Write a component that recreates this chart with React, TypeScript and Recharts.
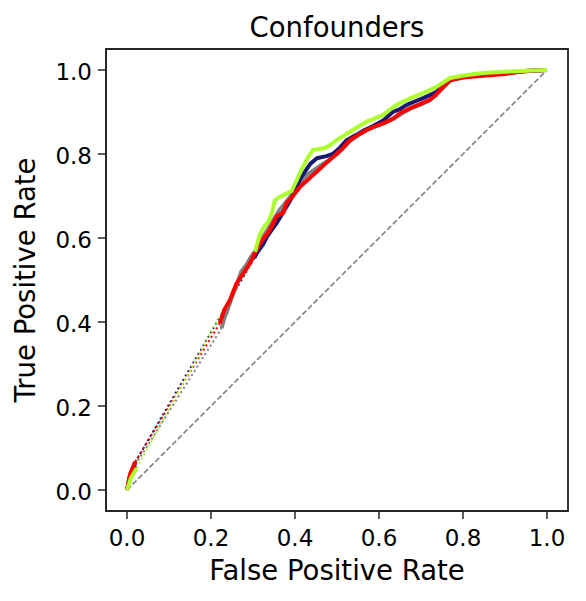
import { Line, LineChart, ReferenceArea, XAxis, YAxis } from 'recharts'

const FONT = '"DejaVu Sans", sans-serif'
const SPINE = '#262626'

const TICKS = [0, 0.2, 0.4, 0.6, 0.8, 1.0]

// each curve: short solid start, a dotted jump, then the dense solid part
const GRAY_START_FPR = [0, 0.006, 0.02]
const GRAY_START_TPR = [0, 0.032, 0.06]
const GRAY_GAP_FPR = [0.02, 0.225]
const GRAY_GAP_TPR = [0.06, 0.385]
const GRAY_FPR = [0.225, 0.232, 0.24, 0.25, 0.262, 0.272, 0.285, 0.295, 0.31, 0.322, 0.335, 0.35, 0.362, 0.378, 0.39, 0.405, 0.42, 0.435, 0.45, 0.465, 0.48, 0.5, 0.515, 0.53, 0.55, 0.57, 0.59, 0.61, 0.635, 0.655, 0.675, 0.7, 0.72, 0.745, 0.77, 0.81, 0.85, 0.9, 0.95, 1]
const GRAY_TPR = [0.385, 0.41, 0.43, 0.46, 0.49, 0.52, 0.537, 0.555, 0.575, 0.6, 0.62, 0.645, 0.665, 0.685, 0.7, 0.722, 0.742, 0.755, 0.765, 0.775, 0.785, 0.8, 0.815, 0.83, 0.845, 0.857, 0.865, 0.873, 0.884, 0.897, 0.908, 0.918, 0.928, 0.95, 0.975, 0.985, 0.988, 0.992, 0.997, 1]

const NAVY_START_FPR = [0, 0.008, 0.019]
const NAVY_START_TPR = [0, 0.035, 0.065]
const NAVY_GAP_FPR = [0.019, 0.303]
const NAVY_GAP_TPR = [0.065, 0.552]
const NAVY_FPR = [0.303, 0.309, 0.324, 0.333, 0.345, 0.356, 0.368, 0.38, 0.39, 0.4, 0.412, 0.425, 0.436, 0.452, 0.475, 0.49, 0.507, 0.523, 0.545, 0.562, 0.585, 0.61, 0.633, 0.65, 0.666, 0.685, 0.705, 0.72, 0.737, 0.753, 0.769, 0.8, 0.848, 0.9, 0.928, 0.96, 1]
const NAVY_TPR = [0.552, 0.564, 0.585, 0.603, 0.62, 0.635, 0.655, 0.675, 0.692, 0.712, 0.74, 0.76, 0.776, 0.79, 0.795, 0.8, 0.815, 0.833, 0.845, 0.855, 0.866, 0.88, 0.9, 0.907, 0.917, 0.925, 0.933, 0.94, 0.948, 0.964, 0.976, 0.984, 0.99, 0.994, 0.996, 0.998, 1]

const RED_START_FPR = [0, 0.008, 0.02]
const RED_START_TPR = [0, 0.04, 0.068]
const RED_GAP_FPR = [0.02, 0.221]
const RED_GAP_TPR = [0.068, 0.397]
const RED_FPR = [0.221, 0.232, 0.245, 0.254, 0.261, 0.277, 0.293, 0.305, 0.317, 0.33, 0.34, 0.356, 0.372, 0.38, 0.395, 0.412, 0.43, 0.452, 0.47, 0.485, 0.499, 0.515, 0.531, 0.55, 0.571, 0.59, 0.61, 0.633, 0.65, 0.674, 0.7, 0.721, 0.735, 0.745, 0.769, 0.8, 0.848, 0.895, 0.952, 1]
const RED_TPR = [0.397, 0.43, 0.452, 0.475, 0.492, 0.516, 0.54, 0.565, 0.587, 0.605, 0.619, 0.651, 0.66, 0.683, 0.7, 0.722, 0.738, 0.758, 0.775, 0.788, 0.8, 0.815, 0.833, 0.845, 0.857, 0.866, 0.873, 0.884, 0.897, 0.909, 0.92, 0.929, 0.94, 0.952, 0.976, 0.982, 0.986, 0.99, 0.998, 1]

const GREEN_START_FPR = [0, 0.01, 0.023]
const GREEN_START_TPR = [0, 0.03, 0.052]
const GREEN_GAP_FPR = [0.023, 0.305]
const GREEN_GAP_TPR = [0.052, 0.567]
const GREEN_FPR = [0.305, 0.311, 0.317, 0.325, 0.336, 0.345, 0.352, 0.364, 0.378, 0.392, 0.398, 0.404, 0.414, 0.424, 0.433, 0.443, 0.46, 0.475, 0.49, 0.499, 0.515, 0.531, 0.55, 0.571, 0.59, 0.61, 0.625, 0.642, 0.666, 0.685, 0.705, 0.72, 0.737, 0.755, 0.769, 0.809, 0.848, 0.895, 0.952, 1]
const GREEN_TPR = [0.567, 0.59, 0.61, 0.625, 0.638, 0.66, 0.69, 0.698, 0.705, 0.712, 0.725, 0.738, 0.76, 0.779, 0.795, 0.81, 0.812, 0.816, 0.826, 0.833, 0.843, 0.853, 0.865, 0.877, 0.885, 0.893, 0.905, 0.917, 0.929, 0.937, 0.945, 0.952, 0.96, 0.972, 0.981, 0.988, 0.993, 0.996, 0.998, 1]

const CHANCE_FPR = [0, 1]
const CHANCE_TPR = [0, 1]

const pts = (xs: number[], ys: number[]) => xs.map((x, i) => ({ x, y: ys[i] }))

const SERIES = [
  { key: 'gray', color: '#808080', start: pts(GRAY_START_FPR, GRAY_START_TPR), gap: pts(GRAY_GAP_FPR, GRAY_GAP_TPR), main: pts(GRAY_FPR, GRAY_TPR) },
  { key: 'navy', color: '#191970', start: pts(NAVY_START_FPR, NAVY_START_TPR), gap: pts(NAVY_GAP_FPR, NAVY_GAP_TPR), main: pts(NAVY_FPR, NAVY_TPR) },
  { key: 'red', color: '#ff0000', start: pts(RED_START_FPR, RED_START_TPR), gap: pts(RED_GAP_FPR, RED_GAP_TPR), main: pts(RED_FPR, RED_TPR) },
  { key: 'green', color: '#adff2f', start: pts(GREEN_START_FPR, GREEN_START_TPR), gap: pts(GREEN_GAP_FPR, GREEN_GAP_TPR), main: pts(GREEN_FPR, GREEN_TPR) },
]

const XTick = ({ x, y, payload }: any) => (
  <text x={x} y={y} dy={16.5} textAnchor="middle" fontSize={23} fontFamily={FONT} fill="#000">
    {Number(payload.value).toFixed(1)}
  </text>
)

const YTick = ({ x, y, payload }: any) => (
  <text x={x} y={y} dy={9.5} textAnchor="end" fontSize={23} fontFamily={FONT} fill="#000">
    {Number(payload.value).toFixed(1)}
  </text>
)

export default function App() {
  return (
    <div style={{ position: 'absolute', left: 0, top: 0, background: '#fff' }}>
      <LineChart width={586} height={601} margin={{ top: 49, right: 18, bottom: 0, left: 0 }}>
        <XAxis
          type="number"
          dataKey="x"
          domain={[-0.05, 1.05]}
          ticks={TICKS}
          allowDataOverflow
          height={90}
          tickSize={8}
          tickMargin={10}
          tick={XTick}
          tickLine={{ stroke: SPINE, strokeWidth: 1.5 }}
          axisLine={{ stroke: SPINE, strokeWidth: 1.8 }}
          label={{
            content: () => (
              <text x={337} y={580} textAnchor="middle" fontSize={27.5} fontFamily={FONT} fill="#000">
                False Positive Rate
              </text>
            ),
          }}
        />
        <YAxis
          type="number"
          dataKey="y"
          domain={[-0.05, 1.05]}
          ticks={TICKS}
          allowDataOverflow
          width={106}
          tickSize={8}
          tickMargin={6}
          tick={YTick}
          tickLine={{ stroke: SPINE, strokeWidth: 1.5 }}
          axisLine={{ stroke: SPINE, strokeWidth: 1.8 }}
          label={{
            content: () => (
              <text
                x={35}
                y={280}
                transform="rotate(-90, 35, 280)"
                textAnchor="middle"
                fontSize={27.5}
                fontFamily={FONT}
                fill="#000"
              >
                True Positive Rate
              </text>
            ),
          }}
        />
        <ReferenceArea
          x1={-0.05}
          x2={1.05}
          y1={-0.05}
          y2={1.05}
          fill="none"
          fillOpacity={0}
          stroke={SPINE}
          strokeWidth={1.8}
        />
        <Line
          data={pts(CHANCE_FPR, CHANCE_TPR)}
          dataKey="y"
          stroke="#808080"
          strokeWidth={1.6}
          strokeDasharray="5.5 2.5"
          dot={false}
          activeDot={false}
          isAnimationActive={false}
        />
        {SERIES.map((s) => (
          <Line
            key={s.key + '-gap'}
            data={s.gap}
            dataKey="y"
            stroke={s.color}
            strokeWidth={2}
            strokeDasharray="2 3"
            dot={false}
            activeDot={false}
            isAnimationActive={false}
          />
        ))}
        {SERIES.map((s) => (
          <Line
            key={s.key + '-start'}
            data={s.start}
            dataKey="y"
            stroke={s.color}
            strokeWidth={4}
            strokeLinejoin="round"
            dot={false}
            activeDot={false}
            isAnimationActive={false}
          />
        ))}
        {SERIES.map((s) => (
          <Line
            key={s.key + '-main'}
            data={s.main}
            dataKey="y"
            stroke={s.color}
            strokeWidth={4}
            strokeLinejoin="round"
            dot={false}
            activeDot={false}
            isAnimationActive={false}
          />
        ))}
        <text x={337} y={36.5} textAnchor="middle" fontSize={27.5} fontFamily={FONT} fill="#000">
          Confounders
        </text>
      </LineChart>
    </div>
  )
}
